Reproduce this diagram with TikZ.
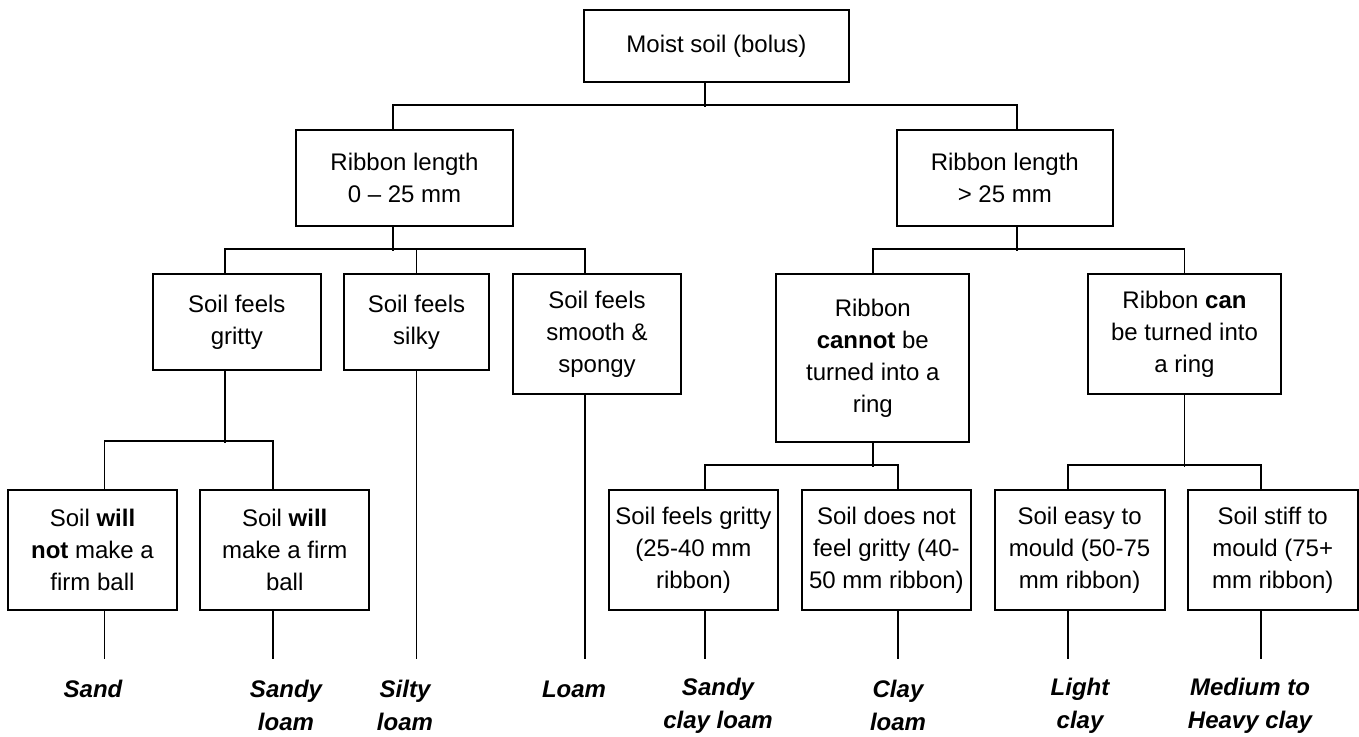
\documentclass[tikz,border=0pt]{standalone}
\usepackage{fontspec}
\setmainfont{Liberation Sans}
\usepackage{tikz}

\begin{document}
\begin{tikzpicture}[
    x=1pt, y=-1pt,
    soilbox/.style={draw, line width=1.9pt, inner sep=0pt, align=center, font=\fontsize{24}{32}\selectfont},
    result/.style={inner sep=0pt, align=center, font=\fontsize{24}{33}\selectfont\bfseries\itshape},
    link/.style={line width=1.9pt}
  ]
    \useasboundingbox (0,0) rectangle (1359,736);
    \node[soilbox, minimum width=265pt, minimum height=72pt] (root) at (716.5,46) {Moist soil (bolus)};
    \node[soilbox, minimum width=217pt, minimum height=96pt] (ribL) at (404.5,178) {Ribbon length\\0 -- 25 mm};
    \node[soilbox, minimum width=216pt, minimum height=96pt] (ribR) at (1004.8,178) {Ribbon length\\> 25 mm};
    \node[soilbox, minimum width=168pt, minimum height=96pt] (gritty) at (236.8,322) {Soil feels\\gritty};
    \node[soilbox, minimum width=145pt, minimum height=96pt] (silky) at (416.5,322) {Soil feels\\silky};
    \node[soilbox, minimum width=168pt, minimum height=120pt] (smooth) at (597,334) {Soil feels\\smooth \&\\spongy};
    \node[soilbox, minimum width=193pt, minimum height=168pt] (cannot) at (872.8,358) {Ribbon\\\textbf{cannot} be\\turned into a\\ring};
    \node[soilbox, minimum width=193pt, minimum height=120pt] (can) at (1184.5,334) {Ribbon \textbf{can}\\be turned into\\a ring};
    \node[soilbox, minimum width=169pt, minimum height=120pt] (notball) at (92.5,550) {Soil \textbf{will}\\\textbf{not} make a\\firm ball};
    \node[soilbox, minimum width=169pt, minimum height=120pt] (ball) at (284.7,550) {Soil \textbf{will}\\make a firm\\ball};
    \node[soilbox, minimum width=169pt, minimum height=120pt] (sgritty) at (693.4,550) {Soil feels gritty\\(25-40 mm\\ribbon)};
    \node[soilbox, minimum width=169pt, minimum height=120pt] (notgritty) at (886.4,550) {Soil does not\\feel gritty (40-\\50 mm ribbon)};
    \node[soilbox, minimum width=170pt, minimum height=120pt] (easy) at (1079.6,550) {Soil easy to\\mould (50-75\\mm ribbon)};
    \node[soilbox, minimum width=170pt, minimum height=120pt] (stiff) at (1272.7,550) {Soil stiff to\\mould (75+\\mm ribbon)};
    \node[result] (sand) at (93,689) {Sand};
    \node[result] (sandyloam) at (286,705.5) {Sandy\\loam};
    \node[result] (siltyloam) at (405,705.5) {Silty\\loam};
    \node[result] (loam) at (574,689) {Loam};
    \node[result] (sandyclayloam) at (718,705.5) {Sandy\\clay loam};
    \node[result] (clayloam) at (898,705.5) {Clay\\loam};
    \node[result] (lightclay) at (1080,705.5) {Light\\clay};
    \node[result] (heavyclay) at (1250,705.5) {Medium to\\Heavy clay};
    \draw[link] ([xshift=-11.5pt]root.south) -- ++(0,24);
    \draw[link] ([xshift=-11.5pt]ribL.north) -- ++(0,-24) -| ([xshift=12pt]ribR.north);
    \draw[link] ([xshift=-11.5pt]ribL.south) -- ++(0,24);
    \draw[link] ([xshift=-12pt]gritty.north) -- ++(0,-24) -| ([xshift=-12pt]smooth.north);
    \draw[link] (silky.north) -- ++(0,-24);
    \draw[link] ([xshift=12pt]ribR.south) -- ++(0,24);
    \draw[link] (cannot.north) -- ++(0,-24) -| (can.north);
    \draw[link] ([xshift=-12pt]gritty.south) -- ++(0,72);
    \draw[link] ([xshift=12pt]notball.north) -- ++(0,-48) -| ([xshift=-12pt]ball.north);
    \draw[link] (cannot.south) -- ++(0,24);
    \draw[link] ([xshift=12pt]sgritty.north) -- ++(0,-24) -| ([xshift=12pt]notgritty.north);
    \draw[link] (can.south) -- ++(0,72);
    \draw[link] ([xshift=-12pt]easy.north) -- ++(0,-24) -| ([xshift=-12pt]stiff.north);
    \draw[link] ([xshift=12pt]notball.south) -- ++(0,48);
    \draw[link] ([xshift=-12pt]ball.south) -- ++(0,48);
    \draw[link] (silky.south) -- ++(0,288);
    \draw[link] ([xshift=-12pt]smooth.south) -- ++(0,264);
    \draw[link] ([xshift=12pt]sgritty.south) -- ++(0,48);
    \draw[link] ([xshift=12pt]notgritty.south) -- ++(0,48);
    \draw[link] ([xshift=-12pt]easy.south) -- ++(0,48);
    \draw[link] ([xshift=-12pt]stiff.south) -- ++(0,48);
  \end{tikzpicture}
\end{document}
